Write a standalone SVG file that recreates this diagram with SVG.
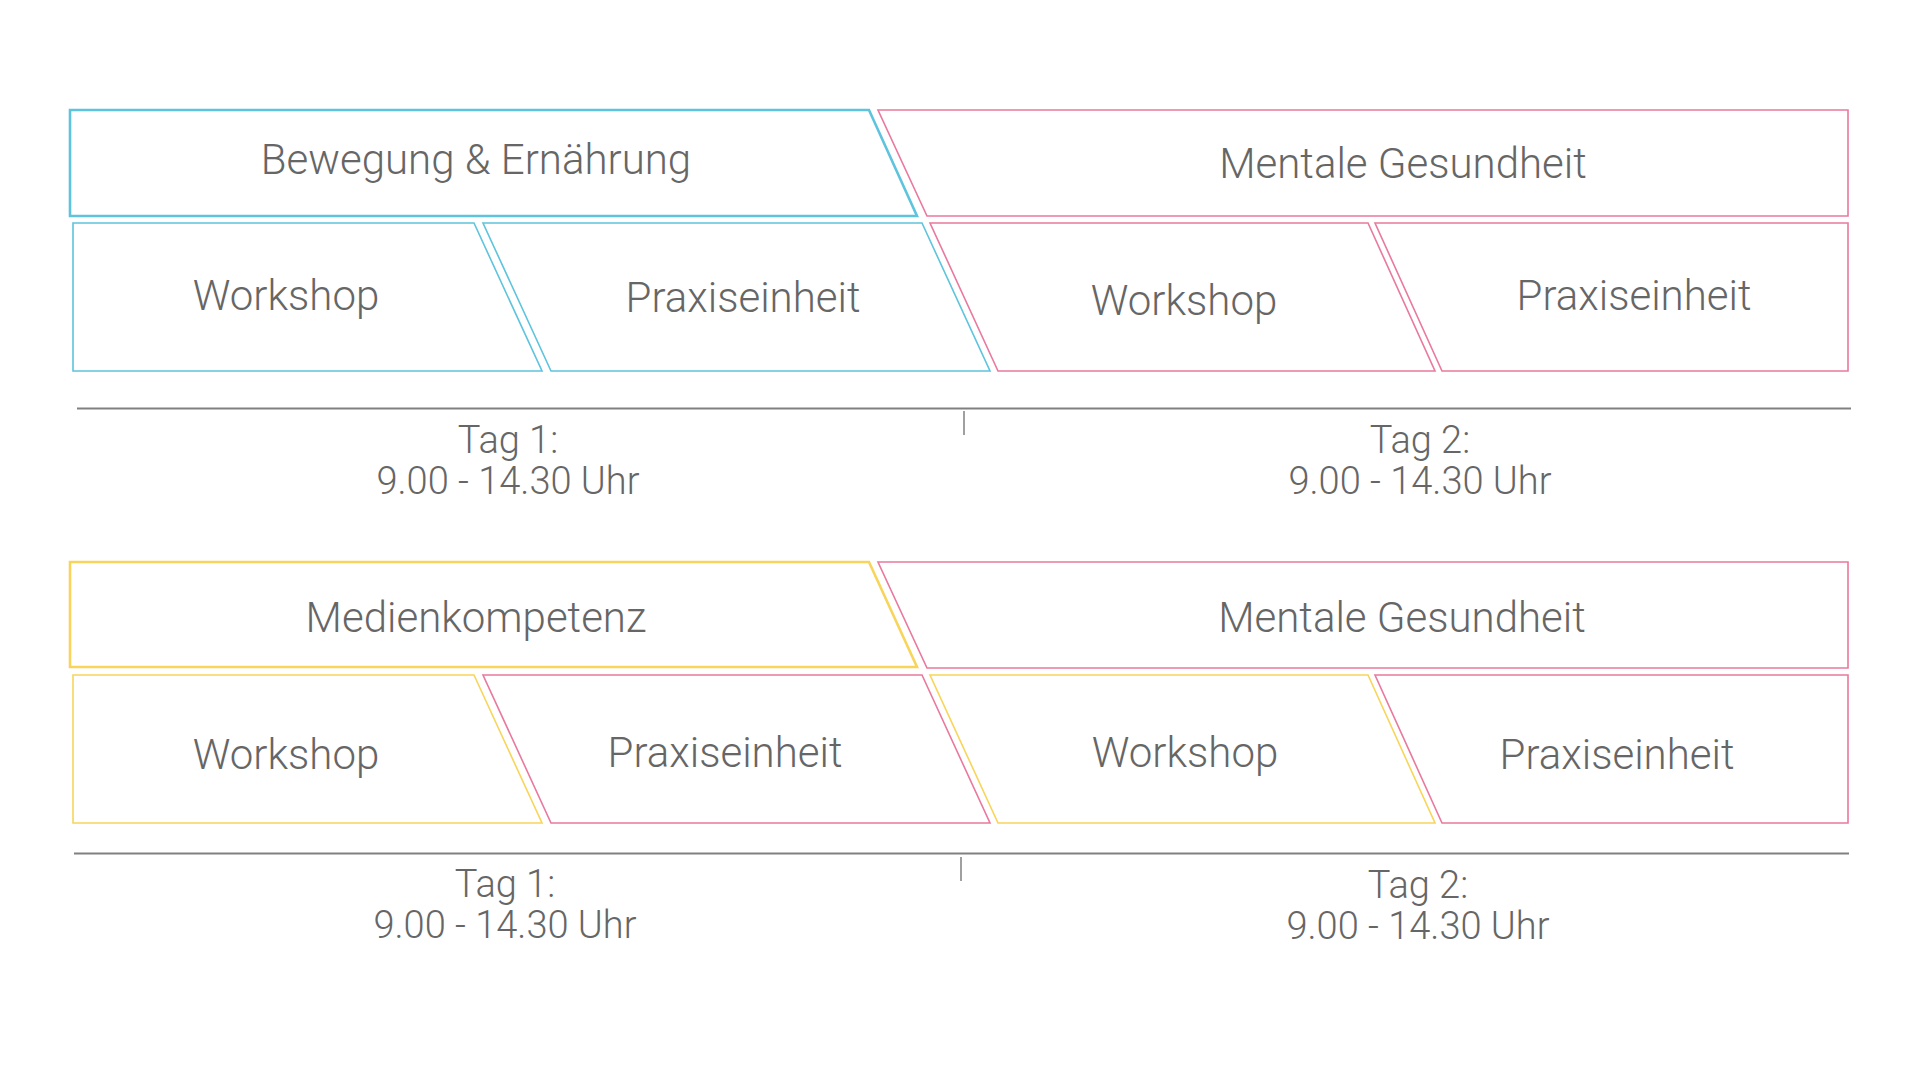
<svg xmlns="http://www.w3.org/2000/svg" width="1920" height="1079" viewBox="0 0 1920 1079">
<style>
.bg{fill:#ffffff}
.box{fill:none;stroke-width:1.6;stroke-linejoin:miter}
.main{stroke-width:2.6}
.cyan{stroke:#5ec4dd}
.pink{stroke:#e9799d}
.yellow{stroke:#f8d55a}
.lbl{font-family:Roboto,"Liberation Sans",sans-serif;font-weight:300;font-size:42px;fill:#666666;text-anchor:middle}
.day{font-family:Roboto,"Liberation Sans",sans-serif;font-weight:300;font-size:38px;fill:#666666;text-anchor:middle}
.axis{stroke:#808080;stroke-width:2;fill:none}
.tick{stroke:#808080;stroke-width:1.5;fill:none}
</style>
<rect class="bg" x="0" y="0" width="1920" height="1079"/>

<!-- Plan 1 -->
<g id="p1-bewegung">
<polygon class="box main cyan" points="70,110 869,110 917,216 70,216"/>
<text class="lbl" x="476" y="174">Bewegung &amp; Ernährung</text>
</g>
<g id="p1-mentale">
<polygon class="box pink" points="878,110 1848,110 1848,216 927,216"/>
<text class="lbl" x="1403" y="178">Mentale Gesundheit</text>
</g>
<g id="p1-workshop1">
<polygon class="box cyan" points="73,223 474,223 542,371 73,371"/>
<text class="lbl" x="286" y="310">Workshop</text>
</g>
<g id="p1-praxis1">
<polygon class="box cyan" points="483,223 922,223 990,371 551,371"/>
<text class="lbl" x="743" y="312">Praxiseinheit</text>
</g>
<g id="p1-workshop2">
<polygon class="box pink" points="930,223 1368,223 1435,371 998,371"/>
<text class="lbl" x="1184" y="315">Workshop</text>
</g>
<g id="p1-praxis2">
<polygon class="box pink" points="1375,223 1848,223 1848,371 1442,371"/>
<text class="lbl" x="1634" y="310">Praxiseinheit</text>
</g>
<g id="p1-timeline">
<line class="axis" x1="77" y1="408.5" x2="1851" y2="408.5"/>
<line class="tick" x1="964" y1="411" x2="964" y2="435"/>
<text class="day" x="508" y="453">Tag 1:</text>
<text class="day" x="508" y="494">9.00 - 14.30 Uhr</text>
<text class="day" x="1420" y="453">Tag 2:</text>
<text class="day" x="1420" y="494">9.00 - 14.30 Uhr</text>
</g>

<!-- Plan 2 -->
<g id="p2-medien">
<polygon class="box main yellow" points="70,562 869,562 917,667 70,667"/>
<text class="lbl" x="476" y="632">Medienkompetenz</text>
</g>
<g id="p2-mentale">
<polygon class="box pink" points="878,562 1848,562 1848,668 927,668"/>
<text class="lbl" x="1402" y="632">Mentale Gesundheit</text>
</g>
<g id="p2-workshop1">
<polygon class="box yellow" points="73,675 474,675 542,823 73,823"/>
<text class="lbl" x="286" y="769">Workshop</text>
</g>
<g id="p2-praxis1">
<polygon class="box pink" points="483,675 922,675 990,823 551,823"/>
<text class="lbl" x="725" y="767">Praxiseinheit</text>
</g>
<g id="p2-workshop2">
<polygon class="box yellow" points="930,675 1368,675 1435,823 998,823"/>
<text class="lbl" x="1185" y="767">Workshop</text>
</g>
<g id="p2-praxis2">
<polygon class="box pink" points="1375,675 1848,675 1848,823 1442,823"/>
<text class="lbl" x="1617" y="769">Praxiseinheit</text>
</g>
<g id="p2-timeline">
<line class="axis" x1="74" y1="853.5" x2="1849" y2="853.5"/>
<line class="tick" x1="961" y1="857" x2="961" y2="881"/>
<text class="day" x="505" y="897">Tag 1:</text>
<text class="day" x="505" y="938">9.00 - 14.30 Uhr</text>
<text class="day" x="1418" y="898">Tag 2:</text>
<text class="day" x="1418" y="939">9.00 - 14.30 Uhr</text>
</g>
</svg>
